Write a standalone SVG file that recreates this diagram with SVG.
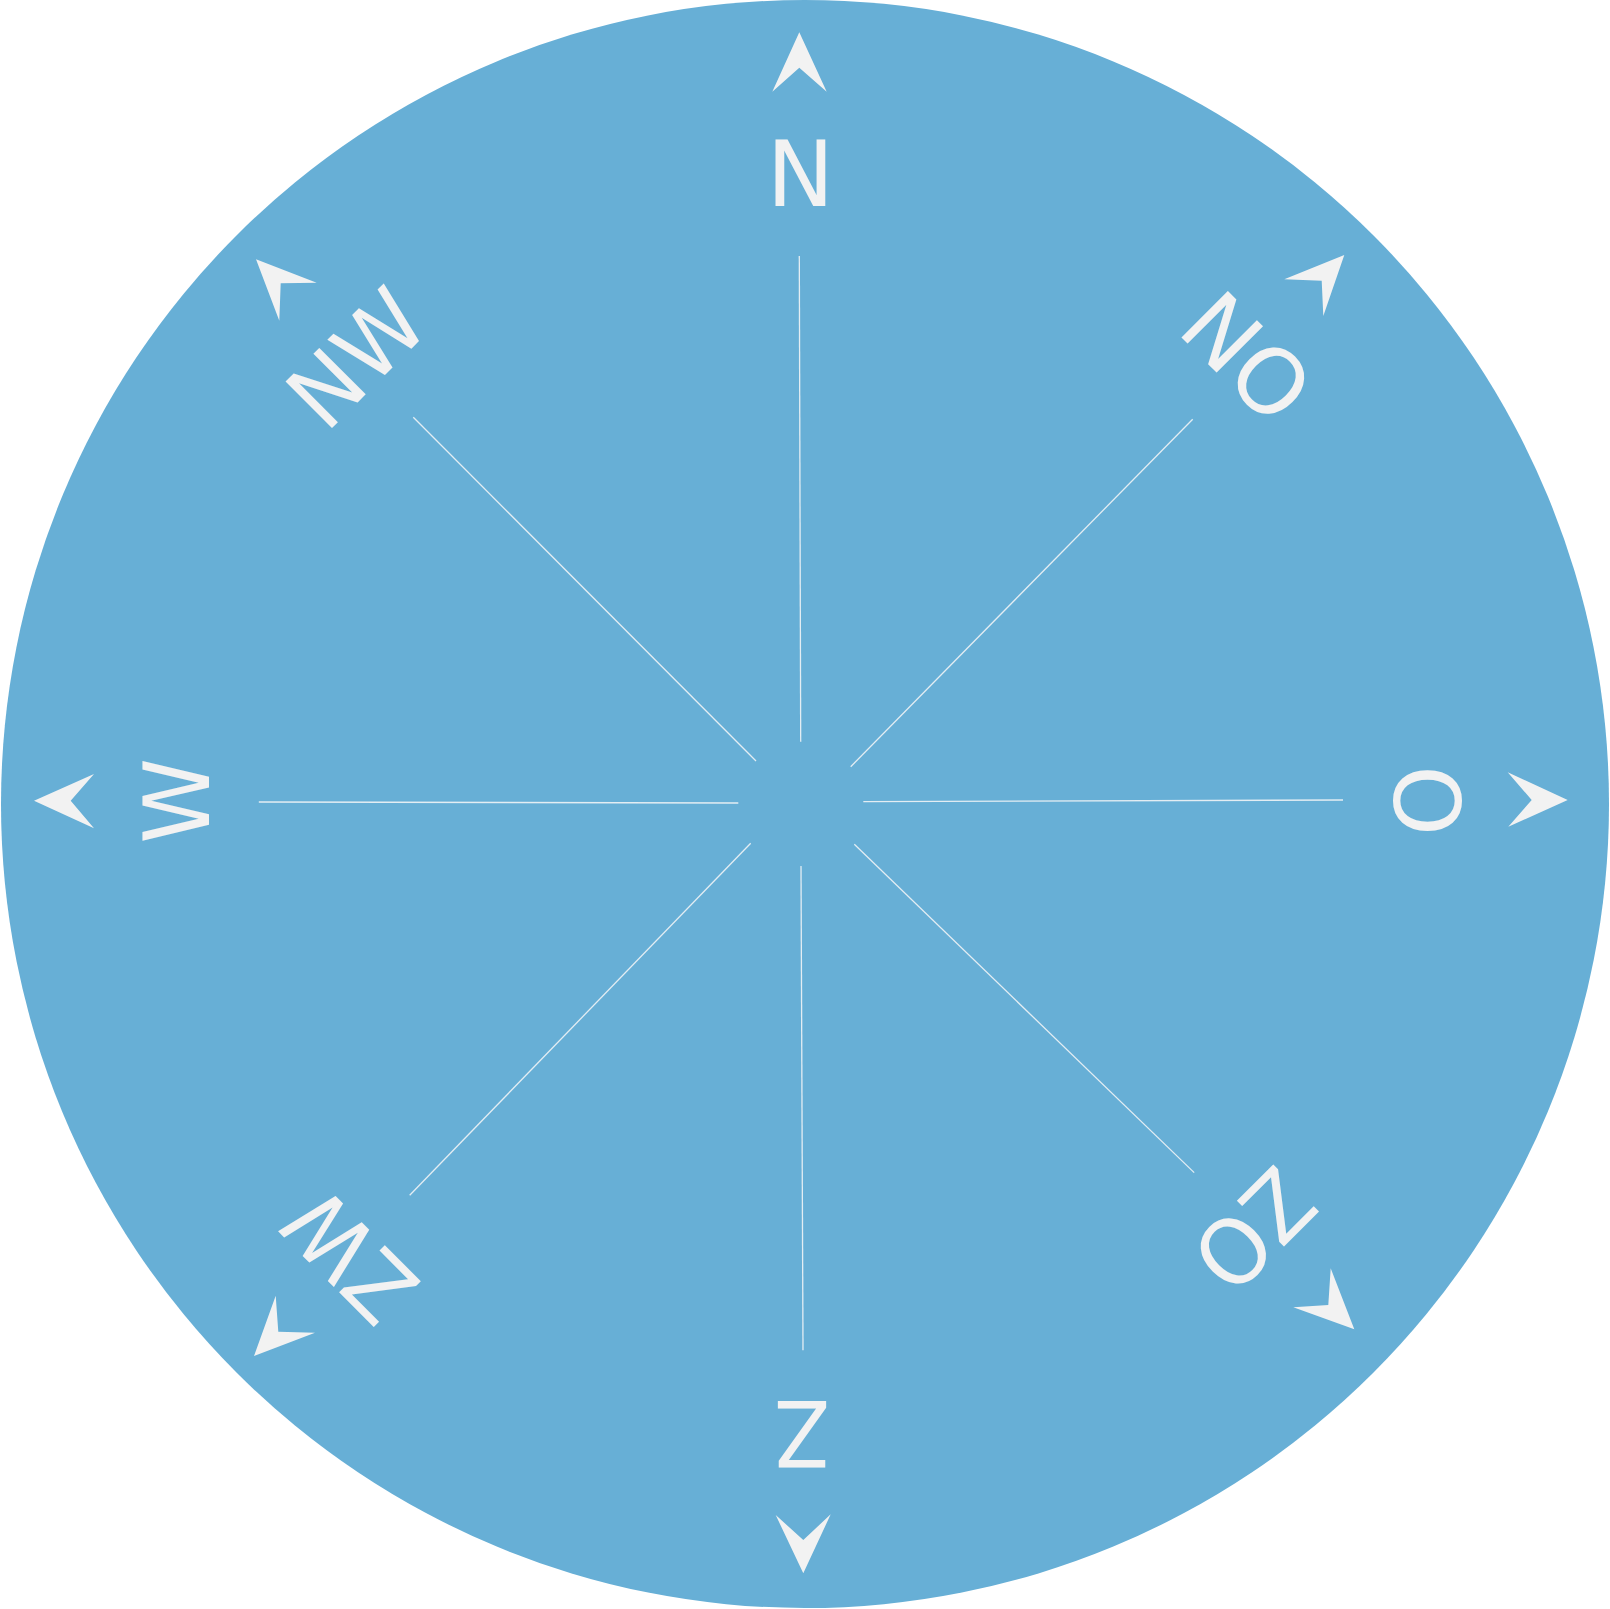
<svg xmlns="http://www.w3.org/2000/svg" width="1610" height="1609" viewBox="0 0 1610 1609">
<style>
.bg{fill:#67afd6}
.lbl{font-family:"DejaVu Sans",sans-serif;font-size:90px;fill:#f2f2f2;text-anchor:middle}
.arr{fill:#f2f2f2}
.ln{stroke:#e3edf3;stroke-width:1.3;fill:none}
</style>
<rect width="1610" height="1609" fill="#ffffff"/>
<circle class="bg" cx="805" cy="804" r="804"/>
<g id="connectors">
<line class="ln" x1="799.3" y1="256" x2="800.7" y2="741.7"/>
<line class="ln" x1="1192.7" y1="419.3" x2="850.7" y2="766.7"/>
<line class="ln" x1="1343" y1="800" x2="863.3" y2="801.7"/>
<line class="ln" x1="1194.2" y1="1172.6" x2="854.3" y2="844.3"/>
<line class="ln" x1="803" y1="1350.2" x2="801" y2="866"/>
<line class="ln" x1="409.7" y1="1195.2" x2="750.7" y2="843.3"/>
<line class="ln" x1="258.8" y1="802" x2="738.3" y2="803"/>
<line class="ln" x1="413.3" y1="417.3" x2="756" y2="761"/>
</g>
<g id="node-N">
<polygon class="arr" points="799.3,32.3 826.7,91.7 799.3,67.7 772.3,91.7"/>
<text class="lbl" transform="translate(800.4,205.7)">N</text>
</g>
<g id="node-NO">
<polygon class="arr" points="1344.3,255 1323.3,316 1321.7,280.7 1284.3,279.3"/>
<text class="lbl" transform="translate(1224,380) rotate(45)">NO</text>
</g>
<g id="node-O">
<polygon class="arr" points="1567.7,800 1508.3,826.7 1531.7,800 1507.7,772.3"/>
<text class="lbl" transform="translate(1394.1,800.7) rotate(90)">O</text>
</g>
<g id="node-ZO">
<polygon class="arr" points="1354.3,1329.3 1293.3,1307.3 1328.3,1305 1330.7,1268.3"/>
<text class="lbl" transform="translate(1231.1,1206.8) rotate(135) scale(0.96,1)">ZO</text>
</g>
<g id="node-Z">
<polygon class="arr" points="803.3,1573.3 775.7,1515 803.3,1540 830.7,1514.3"/>
<text class="lbl" transform="translate(802,1400.5) rotate(180) scale(0.9,1)">Z</text>
</g>
<g id="node-ZW">
<polygon class="arr" points="254,1356 315,1332.7 278.3,1331.7 275.7,1295.7"/>
<text class="lbl" transform="translate(373,1233.5) rotate(-135) scale(0.95,1)">ZW</text>
</g>
<g id="node-W">
<polygon class="arr" points="34,800.7 94,828.3 70.7,800.7 94,774"/>
<text class="lbl" transform="translate(208.6,800.85) rotate(-90) scale(0.96,1)">W</text>
</g>
<g id="node-NW">
<polygon class="arr" points="256,259.3 279.3,320.7 280.7,283.3 316.7,282.7"/>
<text class="lbl" transform="translate(379,381) rotate(-45) scale(0.96,1)">NW</text>
</g>
</svg>
